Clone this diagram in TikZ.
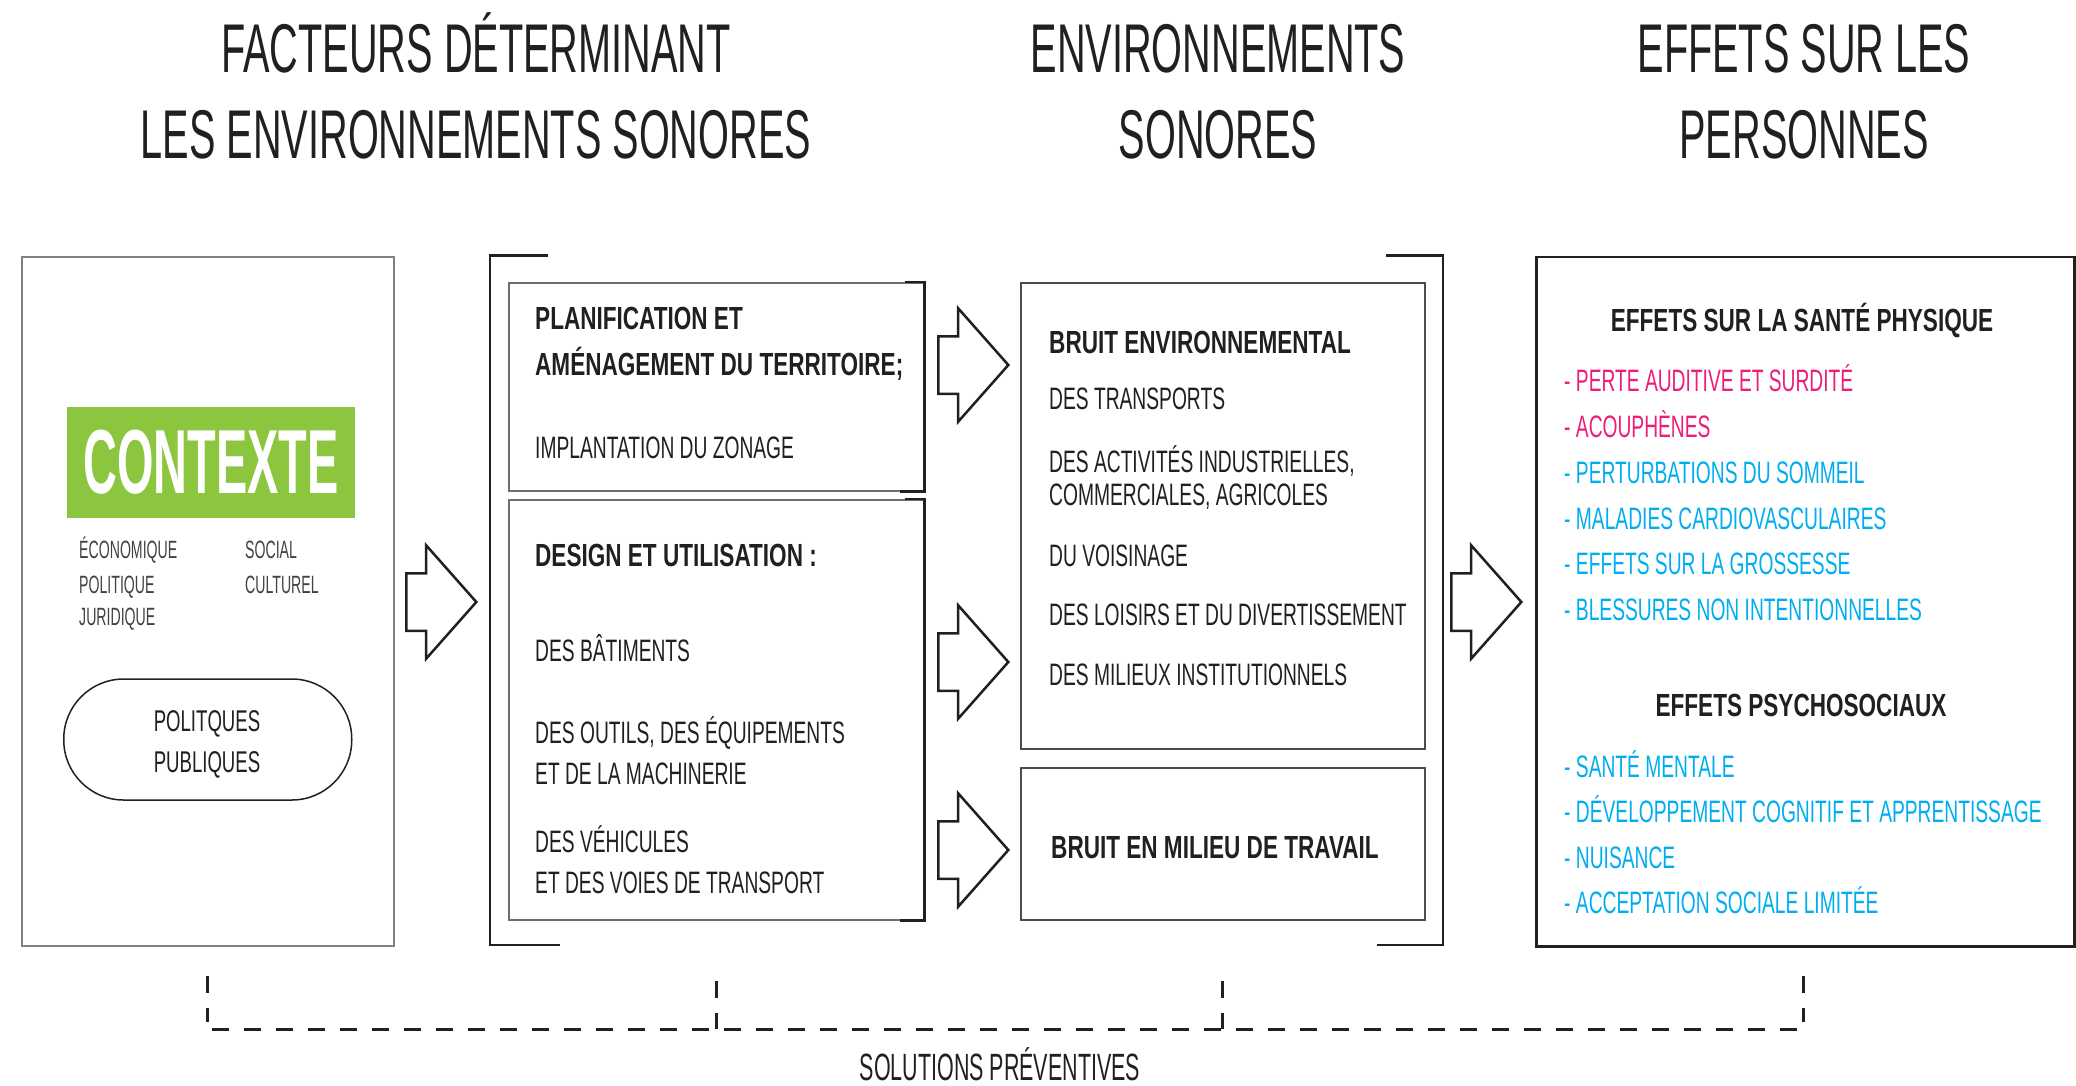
\documentclass[tikz,border=0pt]{standalone}
\usepackage{fontspec}
\setmainfont{Liberation Sans}
\newfontfamily\titrefont[FakeStretch=0.575]{Liberation Sans}
\newfontfamily\petitfont[FakeStretch=0.565]{Liberation Sans}
\newfontfamily\textefont[FakeStretch=0.62]{Liberation Sans}
\newfontfamily\grasfont[FakeStretch=0.705]{Liberation Sans Bold}
\newfontfamily\ctxfont[FakeStretch=0.515]{Liberation Sans Bold}
\usetikzlibrary{shapes.arrows}

\definecolor{encre}{HTML}{231F20}
\definecolor{grisbord}{HTML}{6E6E6E}
\definecolor{vertctx}{HTML}{8CC63F}
\definecolor{rosefx}{HTML}{ED1E79}
\definecolor{cyanfx}{HTML}{00AEEF}

\tikzset{
  boite/.style 2 args={
    draw=grisbord,
    line width=1.5pt,
    rectangle,
    anchor=north west,
    inner sep=0pt,
    minimum width=#1,
    minimum height=#2
  },
  titre/.style={anchor=base, inner sep=0pt, text=encre,
    font=\titrefont\fontsize{69}{69}\selectfont},
  gras/.style={anchor=base west, inner sep=0pt, text=encre,
    font=\grasfont\fontsize{32}{32}\selectfont},
  texte/.style={anchor=base west, inner sep=0pt, text=encre,
    font=\textefont\fontsize{31}{31}\selectfont},
  petit/.style={anchor=base west, inner sep=0pt, text=encre!85,
    font=\petitfont\fontsize{25}{25}\selectfont},
  fleche/.style={
    draw=encre,
    fill=white,
    line width=2.5pt,
    single arrow,
    single arrow head extend=28pt,
    single arrow tip angle=97,
    minimum height=70pt,
    inner xsep=0pt,
    inner ysep=27.5pt,
    anchor=tip
  },
  crochet/.style={draw=encre, line width=2.5pt},
  pointilles/.style={draw=encre, line width=3pt, dash pattern=on 17pt off 15pt}
}

\begin{document}
\begin{tikzpicture}[x=1pt,y=-1pt]

    \fill[white] (0,0) rectangle (2076,1085);
    \useasboundingbox (0,0) rectangle (2076,1085);

    % Column titles.
    \node[titre] (t1a) at (476,72) {FACTEURS DÉTERMINANT};
    \node[titre] (t1b) at (476,158) {LES ENVIRONNEMENTS SONORES};
    \node[titre] (t2a) at (1218,72) {ENVIRONNEMENTS};
    \node[titre] (t2b) at (1218,158) {SONORES};
    \node[titre] (t3a) at (1804,72) {EFFETS SUR LES};
    \node[titre] (t3b) at (1804,158) {PERSONNES};

    % Context box.
    \node[boite={372}{689.5}, draw=gray, line width=2pt] (contexte) at (21,255.5) {};
    \node[fill=vertctx, minimum width=288, minimum height=111, inner sep=0pt,
          text=white, font=\ctxfont\fontsize{91}{91}\selectfont] (ctx) at (211,462.5) {CONTEXTE};
    \node[petit] (eco) at (79,558) {ÉCONOMIQUE};
    \node[petit] (pol) at (79,593) {POLITIQUE};
    \node[petit] (jur) at (79,625) {JURIDIQUE};
    \node[petit] (soc) at (245,558) {SOCIAL};
    \node[petit] (cul) at (245,593) {CULTUREL};
    \node[draw=encre, line width=1.5pt, rounded corners=60pt, minimum width=288,
          minimum height=121, inner sep=0pt, text=encre] (pp) at (207.75,739.5) {};
    % base of a two-line node is the base of its last line
    \node[anchor=base, inner sep=0pt, align=center, text=encre,
          font=\textefont\fontsize{30}{41}\selectfont] (pptxt) at (207,772) {POLITQUES\\PUBLIQUES};

    % Bracket round the determinants.
    \draw[crochet] (548,255.5) -- (490,255.5) -- (490,945) -- (560,945);

    \node[boite={415}{208}] (planif) at (508,282) {};
    \draw[crochet] ([xshift=-20pt]planif.north east) -- (planif.north east)
        -- (planif.south east) -- ([xshift=-25pt]planif.south east);
    \node[gras] (pl1) at (535,329.5) {PLANIFICATION ET};
    \node[gras] (pl2) at (535,375.5) {AMÉNAGEMENT DU TERRITOIRE;};
    \node[texte] (pl3) at (535,458) {IMPLANTATION DU ZONAGE};

    \node[boite={415}{420}] (design) at (508,499) {};
    \draw[crochet] ([xshift=-20pt]design.north east) -- (design.north east)
        -- (design.south east) -- ([xshift=-25pt]design.south east);
    \node[gras] (de1) at (535,566.5) {DESIGN ET UTILISATION :};
    \node[texte] (de2) at (535,661) {DES BÂTIMENTS};
    \node[texte] (de3) at (535,743) {DES OUTILS, DES ÉQUIPEMENTS};
    \node[texte] (de4) at (535,784) {ET DE LA MACHINERIE};
    \node[texte] (de5) at (535,852) {DES VÉHICULES};
    \node[texte] (de6) at (535,893) {ET DES VOIES DE TRANSPORT};

    % Sound environments.
    \draw[crochet] (1386,255.5) -- (1443,255.5) -- (1443,945) -- (1377,945);

    \node[boite={404}{466}, draw=encre!80] (bruitenv) at (1020,282) {};
    \node[gras] (be0) at (1049,353) {BRUIT ENVIRONNEMENTAL};
    \foreach \yy/\ligne in {409/DES TRANSPORTS,472/{DES ACTIVITÉS INDUSTRIELLES,},
        505/{COMMERCIALES, AGRICOLES},566/DU VOISINAGE,
        625/DES LOISIRS ET DU DIVERTISSEMENT,685/DES MILIEUX INSTITUTIONNELS}
        \node[texte] (be\yy) at (1049,\yy) {\ligne};

    \node[boite={404}{152}, draw=encre!80] (travail) at (1020,767) {};
    \node[gras] (bt) at (1051,858.5) {BRUIT EN MILIEU DE TRAVAIL};

    % Effects on people.
    \node[boite={538}{689.5}, draw=encre, line width=2.5pt] (effets) at (1535,255.5) {};
    \node[gras, anchor=base] (fx1) at (1802,331) {EFFETS SUR LA SANTÉ PHYSIQUE};
    \foreach \yy/\effet/\coul in {391/PERTE AUDITIVE ET SURDITÉ/rosefx,437/ACOUPHÈNES/rosefx,
        483/PERTURBATIONS DU SOMMEIL/cyanfx,529/MALADIES CARDIOVASCULAIRES/cyanfx,
        574/EFFETS SUR LA GROSSESSE/cyanfx,620/BLESSURES NON INTENTIONNELLES/cyanfx}
        \node[texte, text=\coul] (ph\yy) at (1564,\yy) {- \effet};
    \node[gras, anchor=base] (fx2) at (1801,716) {EFFETS PSYCHOSOCIAUX};
    \foreach \yy/\effet in {777/SANTÉ MENTALE,822/DÉVELOPPEMENT COGNITIF ET APPRENTISSAGE,
        868/NUISANCE,913/ACCEPTATION SOCIALE LIMITÉE}
        \node[texte, text=cyanfx] (ps\yy) at (1564,\yy) {- \effet};

    % Block arrows between the columns.
    \node[fleche] (f1) at (478,602) {};
    \node[fleche] (f2) at (1010,365) {};
    \node[fleche] (f3) at (1010,662) {};
    \node[fleche] (f4) at (1010,850) {};
    \node[fleche] (f5) at (1523,602) {};

    % Preventive solutions.
    \coordinate (d1) at (207,1029);
    \coordinate (d2) at (716,1029);
    \coordinate (d3) at (1222,1029);
    \coordinate (d4) at (1803,1029);
    \draw[pointilles] (207,976) -- (207,1022);
    \draw[pointilles] (716,981) -- (d2);
    \draw[pointilles] (1222,981) -- (d3);
    \draw[pointilles] (1803,976) -- (1803,1022);
    \draw[pointilles] (212,1029) -- (d4);
    \node[anchor=base, inner sep=0pt, text=encre,
          font=\petitfont\fontsize{38}{38}\selectfont] (sol) at (1000,1080) {SOLUTIONS PRÉVENTIVES};

\end{tikzpicture}
\end{document}
